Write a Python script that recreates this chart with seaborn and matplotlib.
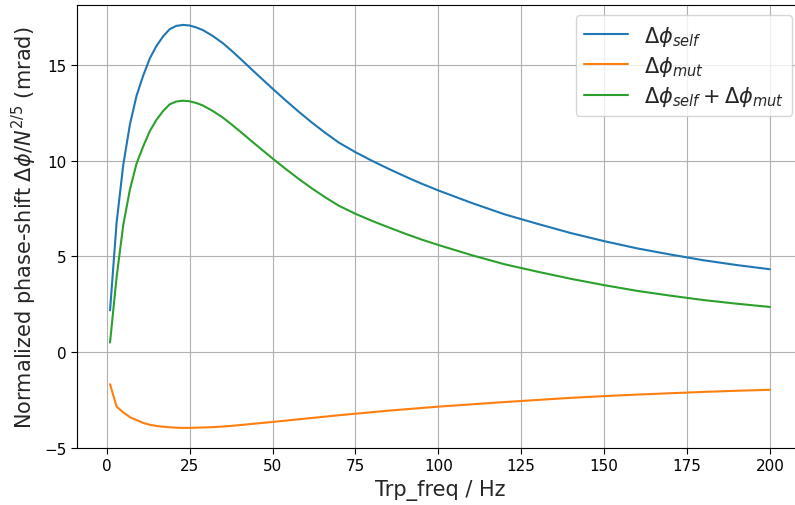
import numpy as np
import pandas as pd
import seaborn as sns
from matplotlib import pyplot as plt

# trap frequency (Hz)
trp_freq = [1, 3, 5, 7, 9, 11, 13, 15, 17, 19, 21, 23, 25, 27, 29, 32, 35, 38,
            41, 44, 47, 50, 54, 58, 62, 66, 70, 75, 80, 85, 90, 95, 100, 110,
            120, 130, 140, 150, 160, 170, 180, 190, 200]

# normalized phase shift, mrad
dphi_self = [2.18, 6.8, 9.8, 11.9, 13.4, 14.45, 15.35, 16.0, 16.5, 16.88, 17.05,
             17.1, 17.07, 16.97, 16.83, 16.52, 16.15, 15.7, 15.22, 14.73, 14.25,
             13.77, 13.15, 12.55, 11.98, 11.45, 10.95, 10.45, 10.0, 9.58, 9.18,
             8.8, 8.45, 7.8, 7.2, 6.7, 6.22, 5.8, 5.42, 5.1, 4.8, 4.55, 4.33]
dphi_mut = [-1.68, -2.85, -3.15, -3.4, -3.55, -3.7, -3.8, -3.86, -3.9, -3.93,
            -3.95, -3.96, -3.96, -3.95, -3.94, -3.92, -3.89, -3.85, -3.8, -3.75,
            -3.7, -3.65, -3.58, -3.51, -3.44, -3.37, -3.3, -3.22, -3.14, -3.06,
            -2.99, -2.92, -2.85, -2.73, -2.61, -2.5, -2.39, -2.3, -2.22, -2.15,
            -2.08, -2.02, -1.97]

df = pd.DataFrame({"f": trp_freq, "self": dphi_self, "mut": dphi_mut})
df["total"] = df["self"] + df["mut"]

sns.set_style("ticks", {"axes.grid": True, "grid.color": "#b0b0b0",
                        "axes.edgecolor": "black", "xtick.color": "black",
                        "ytick.color": "black"})
plt.rcParams["font.family"] = ["DejaVu Sans"]

fig = plt.figure(figsize=(7.95, 5.06), dpi=100)
ax = fig.add_axes([0.0969, 0.1126, 0.913, 0.876])

sns.lineplot(data=df, x="f", y="self", ax=ax, color="#1f77b4", lw=1.5,
             label=r"$\Delta\phi_{self}$")
sns.lineplot(data=df, x="f", y="mut", ax=ax, color="#ff7f0e", lw=1.5,
             label=r"$\Delta\phi_{mut}$")
sns.lineplot(data=df, x="f", y="total", ax=ax, color="#2ca02c", lw=1.5,
             label=r"$\Delta\phi_{self} + \Delta\phi_{mut}$")

ax.set_xticks([0, 25, 50, 75, 100, 125, 150, 175, 200])
ax.set_yticks([-5, 0, 5, 10, 15])
ax.tick_params(labelsize=11, length=4, direction="out")
ax.set_xlabel("Trp_freq / Hz", fontsize=15)
ax.set_ylabel(r"Normalized phase-shift $\Delta\phi/N^{2/5}$ (mrad)", fontsize=15)
ax.grid(True, color="#b0b0b0", lw=0.8)
ax.legend(loc="upper right", fontsize=15, handlelength=2.1, labelspacing=0.3,
          framealpha=0.8)

fig.savefig("out.png", dpi=100)
